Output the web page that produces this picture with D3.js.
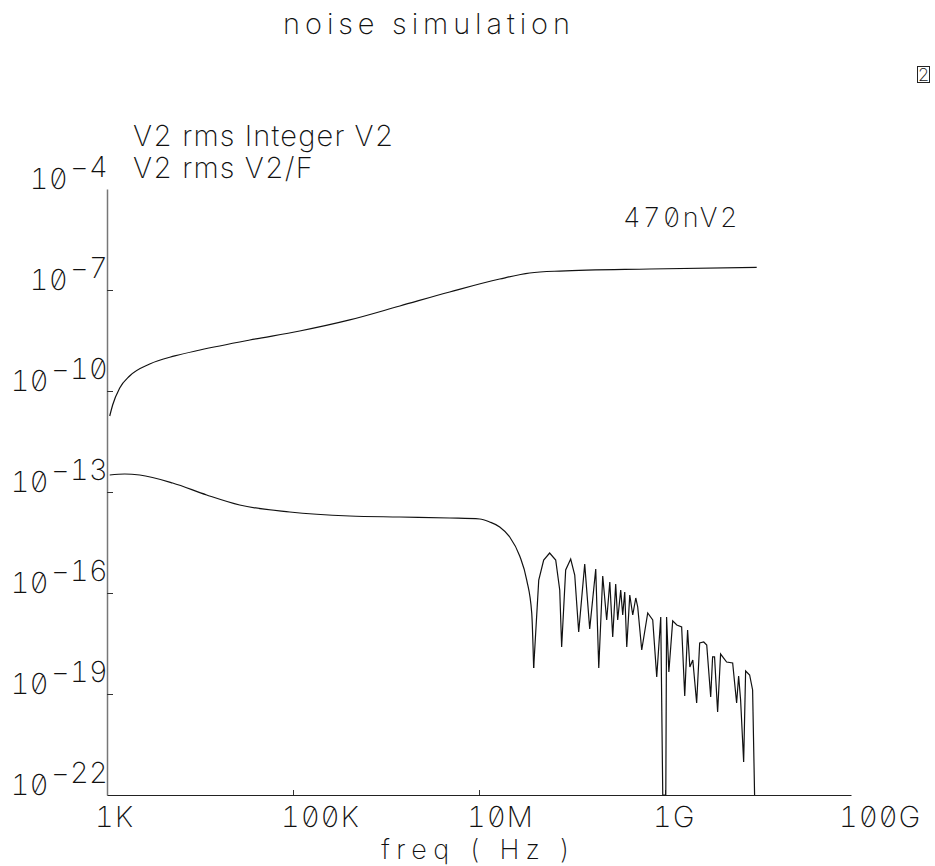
<!DOCTYPE html>
<html>
<head>
<meta charset="utf-8">
<script src="https://cdn.jsdelivr.net/npm/d3@7"></script>
<style>
  body { margin: 0; background: #fff; }
  svg text {
    font-family: Inter, "DejaVu Sans", sans-serif;
    font-weight: 200;
    font-feature-settings: "zero" 1, "tnum" 1;
    fill: #111;
  }
</style>
</head>
<body>
<svg></svg>
<script>
const width = 935, height = 866;

const chartTitle = "noise simulation";
const xTitle = "freq ( Hz )";
const legendNames = ["V2 rms Integer V2", "V2 rms V2/F"];
const endLabel = "470nV2";
const pageNumber = "2";

const xTickValues = [1e3, 1e5, 1e7, 1e9, 1e11];
const xTickLabels = ["1K", "100K", "10M", "1G", "100G"];
const yTickValues = [1e-4, 1e-7, 1e-10, 1e-13, 1e-16, 1e-19, 1e-22];
const yTickExps = ["4", "7", "10", "13", "16", "19", "22"];

// integrated noise (V2 rms Integer V2)
const intFreq = [1.07e3, 1.15e3, 1.37e3, 1.75e3, 2.88e3, 5.35e3, 1.0e4, 3.43e4, 1.18e5, 4.07e5,
  1.41e6, 4.84e6, 1.67e7, 3.51e7, 7.38e7, 6.85e8, 9.68e9];
const intValue = [1.81e-11, 3.84e-11, 1.23e-10, 2.79e-10, 6.34e-10, 1.10e-9, 1.65e-9, 3.27e-9, 6.05e-9, 1.29e-8,
  3.35e-8, 8.73e-8, 2.12e-7, 3.20e-7, 3.66e-7, 4.20e-7, 4.70e-7];

// noise density (V2 rms V2/F)
const psdFreq = [1.07e3, 1.55e3, 2.25e3, 5.08e3, 1.18e4, 2.67e4, 9.23e4, 4.07e5, 1.41e6, 4.84e6,
  1.02e7, 1.30e7, 1.67e7, 2.14e7, 2.74e7, 3.26e7, 3.69e7, 3.87e7, 4.39e7, 4.96e7,
  5.75e7, 6.68e7, 7.38e7, 7.74e7, 8.55e7, 9.68e7, 1.07e8, 1.18e8, 1.37e8, 1.55e8,
  1.80e8, 1.94e8, 2.14e8, 2.36e8, 2.55e8, 2.74e8, 2.95e8, 3.10e8, 3.34e8, 3.51e8,
  3.69e8, 3.88e8, 4.18e8, 4.50e8, 4.85e8, 5.09e8, 5.62e8, 6.52e8, 7.38e8, 8.15e8,
  9.00e8, 9.46e8, 1.02e9, 1.04e9, 1.10e9, 1.21e9, 1.34e9, 1.51e9, 1.63e9, 1.75e9,
  1.85e9, 1.99e9, 2.19e9, 2.36e9, 2.61e9, 2.81e9, 3.10e9, 3.25e9, 3.41e9, 3.68e9,
  3.96e9, 4.60e9, 5.34e9, 5.89e9, 6.19e9, 6.50e9, 7.01e9, 7.36e9, 8.13e9, 8.75e9, 9.19e9];
const psdValue = [3.20e-13, 3.43e-13, 3.20e-13, 1.85e-13, 8.15e-14, 4.11e-14, 2.55e-14, 1.94e-14, 1.81e-14, 1.69e-14,
  1.58e-14, 1.29e-14, 9.14e-15, 4.61e-15, 1.26e-15, 2.43e-16, 2.55e-17, 5.92e-19, 2.43e-16, 9.55e-16,
  1.54e-15, 9.55e-16, 1.23e-16, 2.49e-18, 4.82e-16, 1.02e-15, 3.43e-16, 6.95e-18, 7.28e-16, 8.53e-18,
  5.16e-16, 5.92e-19, 3.20e-16, 1.58e-17, 2.12e-16, 4.93e-18, 1.85e-16, 1.58e-17, 1.23e-16, 2.22e-17,
  1.07e-16, 2.49e-18, 8.73e-17, 2.22e-17, 7.11e-17, 3.84e-17, 2.03e-18, 2.55e-17, 1.58e-17, 3.20e-19,
  1.94e-17, 1e-22, 1e-22, 1.94e-17, 4.51e-19, 1.48e-17, 1.12e-17, 9.77e-18, 8.73e-20, 7.96e-18,
  6.34e-19, 1.02e-18, 5.41e-20, 3.27e-18, 3.51e-18, 2.86e-18, 8.15e-20, 1.26e-18, 1.26e-18, 2.92e-20,
  1.54e-18, 8.93e-19, 8.34e-19, 5.41e-20, 3.43e-19, 6.64e-20, 9.55e-22, 4.82e-19, 3.67e-19, 1.32e-19, 1e-22];

const svg = d3.select("svg")
  .attr("width", width)
  .attr("height", height);

// plot area in page pixels
const plotLeft = 107, plotRight = 851, plotTop = 189, plotBottom = 795;

const x = d3.scaleLog().domain([1e3, 1e11]).range([plotLeft, plotRight]);
const y = d3.scaleLog().domain([1e-22, 1e-4]).range([plotBottom, plotTop]);

const fontSize = 29;

// title
svg.append("text")
  .attr("x", 429)
  .attr("y", 34)
  .attr("text-anchor", "middle")
  .attr("font-size", fontSize)
  .attr("letter-spacing", 4.9)
  .text(chartTitle);

// page number box, top right
svg.append("rect")
  .attr("x", 917.5).attr("y", 66.5)
  .attr("width", 12).attr("height", 16)
  .attr("fill", "none").attr("stroke", "#222");
svg.append("text")
  .attr("x", 923.5).attr("y", 80.5)
  .attr("text-anchor", "middle")
  .attr("font-size", 18)
  .text(pageNumber);

// legend
svg.selectAll(".legend")
  .data(legendNames)
  .enter().append("text")
  .attr("class", "legend")
  .attr("x", 133)
  .attr("y", (d, i) => 146 + i * 32)
  .attr("font-size", fontSize)
  .attr("letter-spacing", 1.2)
  .text(d => d);

// y axis, ticks pointing into the plot
svg.append("g")
  .attr("transform", `translate(${plotLeft}, 0)`)
  .call(d3.axisRight(y).tickValues(yTickValues.slice(1, -1)).tickSize(6).tickSizeOuter(0).tickFormat(""))
  .call(g => g.select(".domain").attr("stroke", "#777").attr("stroke-width", 1.5))
  .call(g => g.selectAll(".tick line").attr("stroke", "#333"));

// y labels: 10 with a raised exponent
const yLab = svg.selectAll(".ylab")
  .data(yTickValues)
  .enter().append("text")
  .attr("class", "ylab")
  .attr("x", plotLeft + 1)
  .attr("y", d => y(d))
  .attr("text-anchor", "end")
  .attr("font-size", fontSize)
  .attr("letter-spacing", 0.3);
yLab.append("tspan").text("10");
yLab.append("tspan")
  .attr("dy", -12)
  .attr("dx", 2)
  .text((d, i) => "\u2212" + yTickExps[i]);

// x axis, ticks pointing up
svg.append("g")
  .attr("transform", `translate(0, ${plotBottom})`)
  .call(d3.axisTop(x).tickValues(xTickValues.slice(1, -1)).tickSize(5).tickSizeOuter(0).tickFormat(""))
  .call(g => g.select(".domain").attr("stroke", "#222"))
  .call(g => g.selectAll(".tick line").attr("stroke", "#333"));

svg.selectAll(".xlab")
  .data(xTickValues)
  .enter().append("text")
  .attr("class", "xlab")
  .attr("x", d => x(d) - 12)
  .attr("y", 827)
  .attr("font-size", fontSize)
  .attr("letter-spacing", 1.2)
  .text((d, i) => xTickLabels[i]);

svg.append("text")
  .attr("x", (plotLeft + plotRight) / 2)
  .attr("y", 859)
  .attr("text-anchor", "middle")
  .attr("font-size", 27)
  .attr("letter-spacing", 6.3)
  .text(xTitle);

// curves
const intData = intFreq.map((f, i) => ({f: f, v: intValue[i]}));
const psdData = psdFreq.map((f, i) => ({f: f, v: psdValue[i]}));

const smoothLine = d3.line()
  .x(d => x(d.f))
  .y(d => y(d.v))
  .curve(d3.curveMonotoneX);

const rawLine = d3.line()
  .x(d => x(d.f))
  .y(d => y(d.v));

svg.append("path")
  .datum(intData)
  .attr("d", smoothLine)
  .attr("fill", "none")
  .attr("stroke", "#111")
  .attr("stroke-width", 1.2);

// smooth roll-off up to the first null, then the ringing part as drawn
const firstNull = 17;
svg.append("path")
  .datum(psdData.slice(0, firstNull + 1))
  .attr("d", smoothLine)
  .attr("fill", "none")
  .attr("stroke", "#111")
  .attr("stroke-width", 1.2);

svg.append("path")
  .datum(psdData.slice(firstNull))
  .attr("d", rawLine)
  .attr("fill", "none")
  .attr("stroke", "#111")
  .attr("stroke-width", 1.2);

// end value of the integrated noise
svg.append("text")
  .attr("x", 623)
  .attr("y", 227)
  .attr("font-size", 27)
  .attr("letter-spacing", 2.5)
  .text(endLabel);
</script>
</body>
</html>
